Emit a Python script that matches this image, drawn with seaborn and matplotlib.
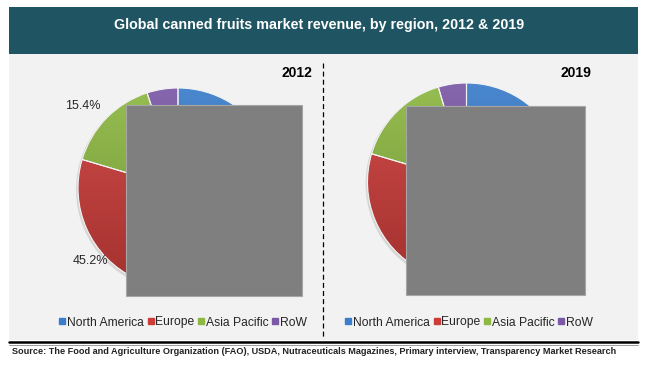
import numpy as np
import matplotlib
matplotlib.use("Agg")
import matplotlib.pyplot as plt
import matplotlib.colors as mcolors
from matplotlib.patches import Rectangle, Circle
from matplotlib.lines import Line2D
import seaborn as sns

# dados (percentuais por regiao)
regions = ["North America", "Europe", "Asia Pacific", "RoW"]
share_2012 = [34.4, 45.2, 15.4, 5.0]
share_2019 = [36.1, 43.5, 15.8, 4.6]
years = ["2012", "2019"]
region_colors = ["#3A7DCA", "#CC3D3A", "#8DB842", "#7B59A7"]

title = "Global canned fruits market revenue, by region, 2012 & 2019"
source = ("Source: The Food and Agriculture Organization (FAO), USDA, Nutraceuticals Magazines, "
          "Primary interview, Transparency Market Research")

sns.set_theme(style="white")
plt.rcParams["font.family"] = ["Liberation Sans", "DejaVu Sans"]

W, H = 650, 372
fig = plt.figure(figsize=(W / 100, H / 100), dpi=100)
fig.patch.set_facecolor("white")


def fx(px):
    return px / W


def fy(py):
    return (H - py) / H


def shade(color, f):
    r, g, b = mcolors.to_rgb(color)
    if f >= 1:
        return (r + (1 - r) * (f - 1), g + (1 - g) * (f - 1), b + (1 - b) * (f - 1))
    return (r * f, g * f, b * f)


# faixa do titulo e painel cinza
fig.patches.append(Rectangle((fx(9), fy(340)), fx(629), 286 / H, transform=fig.transFigure,
                             facecolor="#F2F2F2", edgecolor="none", zorder=-2))
fig.patches.append(Rectangle((fx(9), fy(54)), fx(629), 47 / H, transform=fig.transFigure,
                             facecolor="#1F5562", edgecolor="none", zorder=-1))
fig.text(fx(319), fy(25.5), title, color="white", fontsize=10.3, fontweight="bold",
         ha="center", va="center")


def draw_pie(values, year, cx, cy, r, year_x, legend_cx):
    half = 1.4 * r
    ax = fig.add_axes([fx(cx - half), fy(cy + half), 2 * half / W, 2 * half / H])
    ax.add_patch(Circle((-0.012, -0.018), 1.008, facecolor="#D6D6D6", edgecolor="none", zorder=0))
    wedges, _ = ax.pie(values, colors=region_colors, startangle=90, counterclock=False,
                       radius=1, wedgeprops=dict(edgecolor="#F2F2F2", linewidth=0.8))
    grad = np.linspace(0, 1, 256)[:, None]
    for w, c in zip(wedges, region_colors):
        cmap = mcolors.LinearSegmentedColormap.from_list("g", [shade(c, 1.08), shade(c, 0.8)])
        im = ax.imshow(grad, cmap=cmap, extent=(-1, 1, -1, 1), origin="upper",
                       aspect="auto", zorder=1)
        im.set_clip_path(w)
        w.set_facecolor("none")
        w.set_zorder(2)
    ax.set_xlim(-1.4, 1.4)
    ax.set_ylim(-1.4, 1.4)
    ax.set_aspect("equal")
    ax.axis("off")

    fig.text(fx(year_x), fy(73), year, fontsize=10, fontweight="bold", ha="right",
             va="center", color="black")

    handles = [Line2D([], [], marker="s", linestyle="none", markersize=4.5,
                      markerfacecolor=c, markeredgecolor=c) for c in region_colors]
    fig.legend(handles, regions, loc="center", bbox_to_anchor=(fx(legend_cx), fy(322.5)),
               ncol=4, frameon=False, fontsize=8.7, handlelength=0.5, handletextpad=0.1,
               columnspacing=0.35, borderpad=0)
    return ax


ax1 = draw_pie(share_2012, years[0], 178, 188, 100, 312, 183)
ax1.text(-0.947, 0.82, "15.4%", fontsize=9, ha="center", va="center")
ax1.text(-0.875, -0.73, "45.2%", fontsize=9, ha="center", va="center")
ax2 = draw_pie(share_2019, years[1], 466.5, 182, 99, 591, 469)

# caixas cinzas que cobrem parte das pizzas
for x0, y0, x1, y1 in [(126, 105, 302, 296), (406, 106, 585, 295)]:
    fig.patches.append(Rectangle((fx(x0), fy(y1)), fx(x1 - x0), (y1 - y0) / H,
                                 transform=fig.transFigure, facecolor="#7F7F7F",
                                 edgecolor="#A6A6A6", linewidth=0.8, zorder=5))

# divisor tracejado
fig.add_artist(Line2D([fx(323), fx(323)], [fy(63), fy(338)], transform=fig.transFigure,
                      color="black", linewidth=0.9, linestyle=(0, (4, 2.5))))

# linhas duplas e fonte
fig.add_artist(Line2D([fx(9), fx(638)], [fy(342), fy(342)], transform=fig.transFigure,
                      color="black", linewidth=1.8))
fig.add_artist(Line2D([fx(9), fx(638)], [fy(344.8), fy(344.8)], transform=fig.transFigure,
                      color="#8C8C8C", linewidth=0.6))
fig.text(fx(12), fy(352), source, fontsize=6.6, fontweight="bold", ha="left", va="center",
         color="#222222")

fig.savefig("out.png", dpi=100)
